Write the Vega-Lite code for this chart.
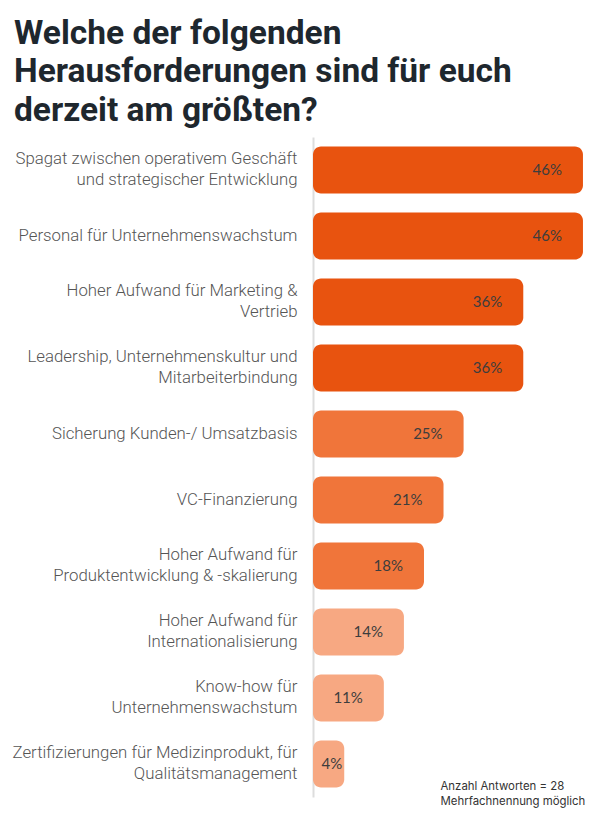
{
  "$schema": "https://vega.github.io/schema/vega-lite/v6.json",
  "width": 280,
  "height": 660,
  "autosize": {"type": "none"},
  "padding": {"left": 313, "top": 137, "right": 7, "bottom": 23},
  "background": "#ffffff",
  "title": {
    "text": ["Welche der folgenden", "Herausforderungen sind für euch", "derzeit am größten?"],
    "anchor": "start",
    "frame": "group",
    "font": "Roboto",
    "fontWeight": "bold",
    "fontSize": 33.5,
    "lineHeight": 38.5,
    "color": "#1e272e",
    "baseline": "top",
    "dx": -299,
    "offset": 0,
    "dy": -9
  },
  "data": {
    "values": [
      {"item": "Spagat zwischen operativem Geschäft|und strategischer Entwicklung", "pct": 0.464, "level": "hoch"},
      {"item": "Personal für Unternehmenswachstum", "pct": 0.464, "level": "hoch"},
      {"item": "Hoher Aufwand für Marketing &|Vertrieb", "pct": 0.357, "level": "hoch"},
      {"item": "Leadership, Unternehmenskultur und|Mitarbeiterbindung", "pct": 0.357, "level": "hoch"},
      {"item": "Sicherung Kunden-/ Umsatzbasis", "pct": 0.25, "level": "mittel"},
      {"item": "VC-Finanzierung", "pct": 0.214, "level": "mittel"},
      {"item": "Hoher Aufwand für|Produktentwicklung & -skalierung", "pct": 0.179, "level": "mittel"},
      {"item": "Hoher Aufwand für|Internationalisierung", "pct": 0.143, "level": "niedrig"},
      {"item": "Know-how für|Unternehmenswachstum", "pct": 0.107, "level": "niedrig"},
      {"item": "Zertifizierungen für Medizinprodukt, für|Qualitätsmanagement", "pct": 0.036, "level": "niedrig"}
    ]
  },
  "encoding": {
    "y": {
      "field": "item",
      "type": "nominal",
      "sort": null,
      "scale": {"paddingInner": 0.288, "paddingOuter": 0.144},
      "axis": {
        "title": null,
        "labelExpr": "split(datum.value, '|')",
        "labelFont": "Roboto",
        "labelFontWeight": 300,
        "labelFontSize": 16.8,
        "labelLineHeight": 21,
        "labelColor": "#555555",
        "labelPadding": 16,
        "labelLimit": 320,
        "labelOffset": {"condition": {"test": "indexof(datum.value, '|') >= 0", "value": -11}, "value": 0},
        "ticks": false,
        "tickSize": 0,
        "domainColor": "#dddddd",
        "domainWidth": 2,
        "grid": false
      }
    },
    "x": {
      "field": "pct",
      "type": "quantitative",
      "scale": {"domain": [-0.02, 0.482], "nice": false, "zero": false},
      "axis": {
        "title": ["Anzahl Antworten = 28", "Mehrfachnennung möglich"],
        "titleFont": "Inter",
        "titleFontWeight": "normal",
        "titleFontSize": 11.4,
        "titleColor": "#333333",
        "titleLineHeight": 15,
        "titleAlign": "left",
        "titleBaseline": "alphabetic",
        "titleX": 127,
        "titleY": -8,
        "labels": false,
        "ticks": false,
        "domain": false,
        "grid": false
      }
    }
  },
  "layer": [
    {
      "mark": {"type": "bar", "cornerRadiusEnd": 8},
      "encoding": {
        "x2": {"datum": -0.02},
        "color": {
          "field": "level",
          "type": "nominal",
          "scale": {"domain": ["hoch", "mittel", "niedrig"], "range": ["#e8530f", "#f0753a", "#f7a882"]},
          "legend": null
        }
      }
    },
    {
      "transform": [{"filter": "datum.pct > 0.05"}],
      "mark": {"type": "text", "align": "right", "baseline": "middle", "dx": -21, "font": "Lato", "fontSize": 15, "color": "#3d3d3d"},
      "encoding": {"text": {"field": "pct", "type": "quantitative", "format": ".0%"}}
    },
    {
      "transform": [{"filter": "datum.pct <= 0.05"}],
      "mark": {"type": "text", "align": "right", "baseline": "middle", "dx": -2, "font": "Lato", "fontSize": 15, "color": "#3d3d3d"},
      "encoding": {"text": {"field": "pct", "type": "quantitative", "format": ".0%"}}
    }
  ],
  "config": {"view": {"stroke": null}}
}
